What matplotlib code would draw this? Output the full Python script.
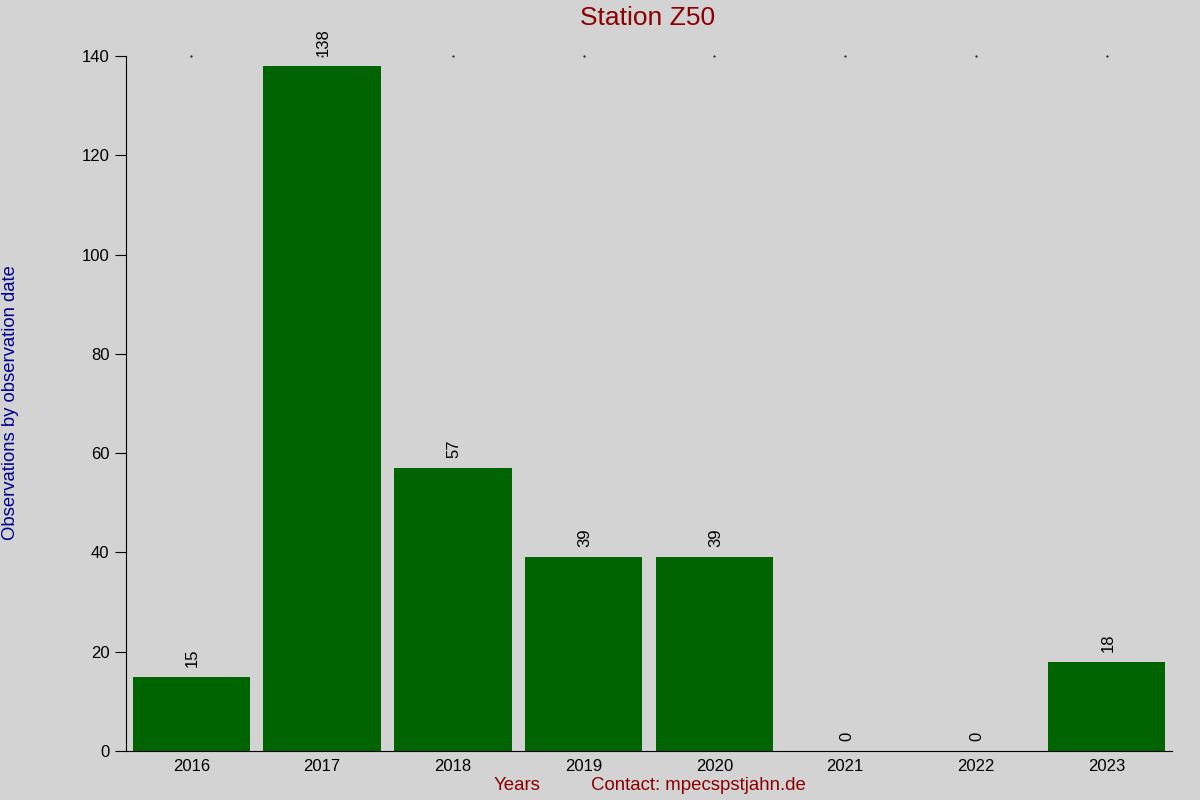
import numpy as np
import matplotlib.pyplot as plt

years = ['2016', '2017', '2018', '2019', '2020', '2021', '2022', '2023']
counts = [15, 138, 57, 39, 39, 0, 0, 18]

plt.rcParams['font.family'] = ['Liberation Sans', 'DejaVu Sans']

fig = plt.figure(figsize=(12, 8), dpi=100, facecolor='#d3d3d3')
ax = fig.add_axes([126/1200, 1-751/800, (1172-126)/1200, (751-56)/800])
ax.set_facecolor('#d3d3d3')

x = np.arange(len(years))
ax.bar(x, counts, width=0.9, color='#006400')
for xi, c in zip(x, counts):
    ax.text(xi + 0.01, c + 2, str(c), rotation=90, ha='center', va='bottom', fontsize=12)

ax.set_xlim(-0.5, len(years) - 0.5)
ax.set_ylim(0, 140)
ax.set_yticks(range(0, 141, 20))
ax.set_xticks(x)
ax.set_xticklabels(years)
ax.tick_params(axis='y', direction='out', length=8, labelsize=12, pad=4)
ax.tick_params(axis='x', length=0, labelsize=12, pad=6, top=True)
for s in ['top', 'right']:
    ax.spines[s].set_visible(False)
# tiny dots at the top where the category ticks are
ax.plot(x, [140]*len(x), 'k.', markersize=1, clip_on=False)

fig.text(648/1200, 1-18/800, 'Station Z50', color='#8b0000', fontsize=19, ha='center', va='center')
fig.text(11/1200, 1-403/800, 'Observations by observation date', color='#00008b',
         fontsize=13.3, rotation=90, ha='center', va='center')
fig.text(517/1200, 1-786/800, 'Years', color='#8b0000', fontsize=13.4, ha='center', va='center')
fig.text(698/1200, 1-786/800, 'Contact: mpecspstjahn.de', color='#8b0000', fontsize=13.4, ha='center', va='center')

fig.savefig('out.png', dpi=100, facecolor=fig.get_facecolor())
